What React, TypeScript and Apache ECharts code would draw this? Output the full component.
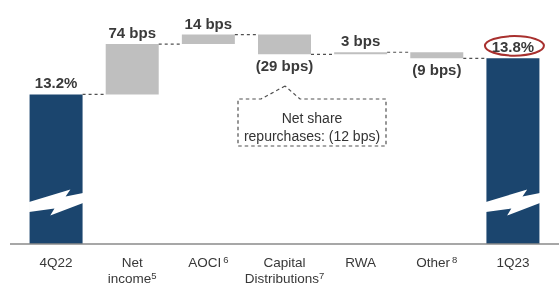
import React, { useEffect, useRef } from 'react';
import * as echarts from 'echarts';

const categoryNames = ['4Q22', 'Net\nincome', 'AOCI', 'Capital\nDistributions', 'RWA', 'Other', '1Q23'];
const footnotes = ['', '5', '6', '7', '', '8', ''];
const startValue = 13.2;
const deltasBps = [74, 14, -29, 3, -9];
const valueLabels = ['13.2%', '74 bps', '14 bps', '(29 bps)', '3 bps', '(9 bps)', '13.8%'];
const calloutText = 'Net share\nrepurchases: (12 bps)';

const FONT = 'Liberation Sans, Arial, sans-serif';
const DARK = '#1b456e';
const GRAY = '#bfbfbf';
const BAR_W = 53;

export default function App() {
  const ref = useRef<HTMLDivElement>(null);
  useEffect(() => {
    if (!ref.current) return;
    const chart = echarts.init(ref.current, undefined, { renderer: 'svg' });

    const levels: number[] = [startValue];
    deltasBps.forEach((d) => {
      levels.push(Math.round((levels[levels.length - 1] + d / 100) * 10000) / 10000);
    });
    const endBar = levels[levels.length - 1];
    const base = [0, ...deltasBps.map((_, i) => Math.min(levels[i], levels[i + 1])), 0];
    const mag = [startValue, ...deltasBps.map((d) => Math.abs(d) / 100), endBar];
    const isNeg = [false, ...deltasBps.map((d) => d < 0), false];
    const connectors = levels.map((l, i) => [i, l]);

    const breakPts: [number, number][] = [
      [-0.01, -42], [0.77, -54.5], [0.68, -47.5], [1.01, -51],
      [1.01, -41], [0.39, -28.5], [0.47, -35.5], [-0.01, -32],
    ];

    chart.setOption({
      animation: false,
      grid: { left: 18, right: 8, top: 6, bottom: 41, containLabel: false, outerBoundsMode: 'none' },
      xAxis: {
        type: 'category',
        data: categoryNames,
        axisLine: { show: false },
        axisTick: { show: false },
        axisLabel: {
          interval: 0,
          margin: 10,
          color: '#383838',
          fontFamily: FONT,
          fontSize: 13.5,
          lineHeight: 16,
          formatter: (v: string, i: number) => {
            const f = footnotes[i];
            if (!f) return v;
            return v + (v.indexOf('\n') >= 0 ? `{s|${f}}` : `{g|${f}}`);
          },
          rich: {
            s: { fontSize: 9.5, verticalAlign: 'top', color: '#383838', fontFamily: FONT },
            g: { fontSize: 9.5, verticalAlign: 'top', color: '#383838', fontFamily: FONT, padding: [0, 0, 0, 2] },
          },
        },
      },
      yAxis: { type: 'value', min: 11, max: 14.5, show: false },
      series: [
        {
          type: 'bar',
          stack: 'w',
          barWidth: BAR_W,
          itemStyle: { color: 'transparent' },
          data: base,
          silent: true,
        },
        {
          type: 'bar',
          stack: 'w',
          barWidth: BAR_W,
          data: mag.map((m, i) => ({
            value: m,
            itemStyle: { color: i === 0 || i === mag.length - 1 ? DARK : GRAY },
            label: {
              show: true,
              position: isNeg[i] ? 'bottom' : 'top',
              distance: 4,
              formatter: valueLabels[i],
              fontFamily: FONT,
              fontWeight: 'bold',
              fontSize: 15,
              color: '#3a3a3a',
            },
          })),
        },
        {
          type: 'custom',
          z: 3,
          silent: true,
          data: connectors,
          renderItem: (params: any, api: any) => {
            const i = api.value(0);
            const l = api.value(1);
            const p0 = api.coord([i, l]);
            const p1 = api.coord([i + 1, l]);
            return {
              type: 'line',
              shape: { x1: p0[0] + BAR_W / 2, y1: p0[1], x2: p1[0] - BAR_W / 2, y2: p1[1] },
              style: { stroke: '#505050', lineWidth: 1.2, lineDash: [3, 3] },
            };
          },
        },
        {
          type: 'custom',
          z: 5,
          silent: true,
          data: [[0, 11], [6, 11]],
          renderItem: (params: any, api: any) => {
            const c = api.coord([api.value(0), api.value(1)]);
            const x0 = c[0] - BAR_W / 2;
            return {
              type: 'polygon',
              shape: { points: breakPts.map(([fx, dy]) => [x0 + fx * BAR_W, c[1] + dy]) },
              style: { fill: '#ffffff' },
            };
          },
        },
      ],
    });

    const endPt = chart.convertToPixel({ xAxisIndex: 0, yAxisIndex: 0 }, [6, endBar]) as number[];

    chart.setOption({
      graphic: [
        {
          type: 'line',
          shape: { x1: 10, y1: 244, x2: 559, y2: 244 },
          style: { stroke: '#8a8a8a', lineWidth: 1.5 },
          z: 10,
        },
        {
          type: 'polyline',
          shape: {
            points: [[285, 86], [261, 99], [238, 99], [238, 146], [386, 146], [386, 99], [300, 99], [285, 86]],
          },
          style: { stroke: '#505050', lineWidth: 1.2, lineDash: [3.5, 3], fill: null },
        },
        {
          type: 'text',
          x: 312,
          y: 127,
          style: {
            text: calloutText,
            font: `14px ${FONT}`,
            fill: '#333333',
            align: 'center',
            verticalAlign: 'middle',
            lineHeight: 18,
          },
        },
        {
          type: 'ellipse',
          shape: { cx: endPt[0] + 1.5, cy: endPt[1] - 12.5, rx: 29.5, ry: 9.8 },
          style: { stroke: '#a8302e', lineWidth: 2, fill: null },
          z: 10,
        },
      ],
    });

    return () => chart.dispose();
  }, []);
  return <div ref={ref} style={{ position: 'fixed', left: 0, top: 0, width: 559, height: 285 }} />;
}
